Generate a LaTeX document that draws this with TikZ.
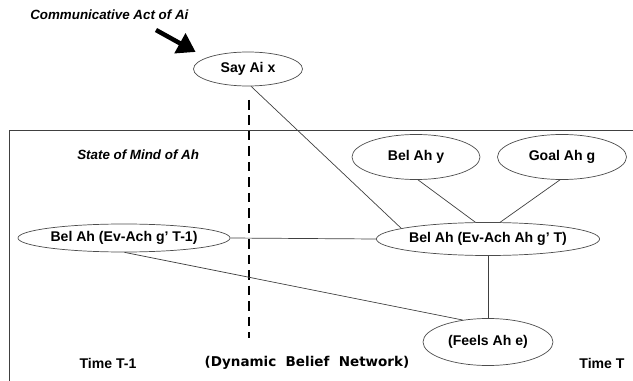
\documentclass[tikz,border=0pt]{standalone}
\usepackage{fontspec}
\setmainfont{Liberation Sans}
\newfontfamily\dbnfont{DejaVu Sans}
\usepackage{tikz}
\usetikzlibrary{arrows.meta,positioning,shapes.geometric}

\begin{document}
\begin{tikzpicture}[x=0.025cm, y=-0.025cm,
  ovalbox/.style={draw=black!70, ellipse, inner sep=0pt, line width=0.5pt,
    align=center, font=\fontsize{10}{12}\selectfont\bfseries},
  lbl/.style={font=\fontsize{9.5}{11}\selectfont\bfseries\itshape, anchor=west, inner sep=0pt},
  timelbl/.style={font=\fontsize{10}{12}\selectfont\bfseries, inner sep=0pt},
  link/.style={draw=black!75, line width=0.5pt},
  bigarrow/.style={line width=3.2pt, -{Triangle[length=0.45cm,width=0.55cm]}}
]
\useasboundingbox (0,0) rectangle (633,381);

% frame of the mind state
\draw[draw=black!75, line width=0.6pt] (633,130) -| (9,381);

\node[lbl] (act) at (30,15) {Communicative Act of Ai};
\node[lbl] (mind) at (77,155) {State of Mind of Ah};

\node[ovalbox, minimum width=2.725cm, minimum height=0.85cm] (say)   at (248,69)  {Say Ai x};
\node[ovalbox, minimum width=3.2cm,   minimum height=1.125cm] (bely) at (416,157) {Bel Ah y};
\node[ovalbox, minimum width=3.225cm, minimum height=1.125cm] (goal) at (562,157) {Goal Ah g};
\node[ovalbox, minimum width=5.275cm, minimum height=0.825cm] (belt) at (488,239) {Bel Ah (Ev-Ach Ah g' T)};
\node[ovalbox, minimum width=5.3cm,   minimum height=0.7cm]   (beltp) at (124,238) {Bel Ah (Ev-Ach g' T-1)};
\node[ovalbox, minimum width=3.25cm,  minimum height=1.175cm] (feels) at (488,342) {(Feels Ah e)};

\node[timelbl] (tprev) at (108,363) {Time T-1};
\node[timelbl] (tnow)  at (602,363) {Time T};
\node[font=\dbnfont\bfseries\fontsize{9.6}{12}\selectfont, inner sep=0pt] (dbn) at (307,363) {(Dynamic\ \ Belief\ \ Network)};

\coordinate (acttail) at (156,30);
\coordinate (ttop) at (249,100);
\coordinate (tbot) at (249,338);

\draw[bigarrow, shorten >=0.3cm] (acttail) -- (say.165);
\draw[line width=1.5pt, dash pattern=on 6.8pt off 4.2pt] (ttop) -- (tbot);

\draw[link] (say.-80) -- (belt.173);
\draw[link] (bely.-85) -- (belt.127);
\draw[link] (goal.-95) -- (belt.54);
\draw[link] (beltp.east) -- (belt.west);
\draw[link] (beltp.-88) -- (feels.139);
\draw[link] (belt.south) -- (feels.north);
\end{tikzpicture}
\end{document}
